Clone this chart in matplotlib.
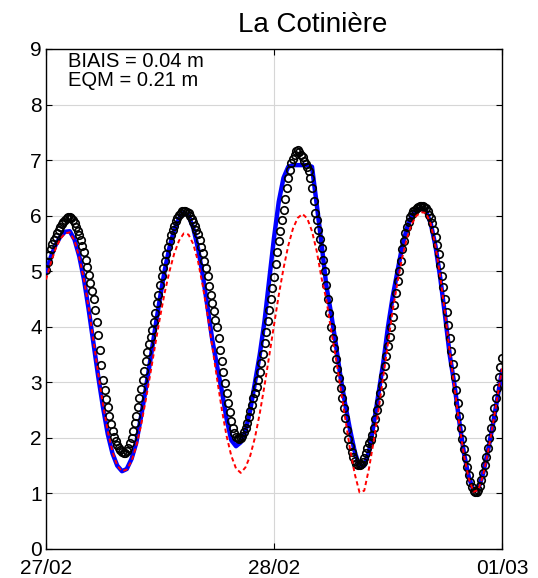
import numpy as np
import matplotlib
matplotlib.use('Agg')
import matplotlib.pyplot as plt

plt.rcParams['font.family'] = ['Liberation Sans', 'DejaVu Sans']

# heures depuis le 27/02 00h
tick_hours = [0, 24, 48]
tick_labels = ['27/02', '28/02', '01/03']

# observations (pas de 10 min, une ligne par heure)
obs = [5.02, 5.16, 5.29, 5.40, 5.49, 5.56,
       5.62, 5.69, 5.75, 5.80, 5.85, 5.89,
       5.93, 5.96, 5.98, 5.98, 5.96, 5.93,
       5.86, 5.80, 5.73, 5.66, 5.57, 5.46,
       5.34, 5.21, 5.07, 4.93, 4.79, 4.65,
       4.50, 4.30, 4.08, 3.85, 3.58, 3.32,
       3.05, 2.86, 2.70, 2.55, 2.40, 2.25,
       2.12, 2.02, 1.94, 1.87, 1.82, 1.78,
       1.74, 1.73, 1.73, 1.76, 1.81, 1.90,
       2.00, 2.12, 2.26, 2.40, 2.55, 2.71,
       2.88, 3.04, 3.21, 3.38, 3.54, 3.69,
       3.82, 3.94, 4.08, 4.25, 4.42, 4.58,
       4.75, 4.91, 5.05, 5.18, 5.31, 5.44,
       5.55, 5.65, 5.74, 5.82, 5.90, 5.96,
       6.01, 6.05, 6.08, 6.09, 6.09, 6.07,
       6.04, 5.99, 5.94, 5.88, 5.81, 5.74,
       5.67, 5.56, 5.44, 5.32, 5.19, 5.05,
       4.92, 4.74, 4.57, 4.42, 4.28, 4.13,
       4.00, 3.79, 3.58, 3.38, 3.18, 2.98,
       2.80, 2.63, 2.46, 2.30, 2.18, 2.08,
       2.02, 1.99, 1.98, 2.00, 2.04, 2.10,
       2.18, 2.27, 2.37, 2.48, 2.60, 2.71,
       2.80, 2.92, 3.05, 3.18, 3.34, 3.51,
       3.70, 3.90, 4.10, 4.30, 4.50, 4.70,
       4.90, 5.13, 5.35, 5.55, 5.73, 5.92,
       6.10, 6.30, 6.50, 6.68, 6.83, 6.94,
       7.02, 7.10, 7.16, 7.18, 7.15, 7.10,
       7.06, 6.99, 6.93, 6.88, 6.80, 6.68,
       6.50, 6.26, 6.05, 5.92, 5.75, 5.58,
       5.42, 5.20, 5.00, 4.75, 4.50, 4.25,
       4.00, 3.80, 3.61, 3.42, 3.24, 3.07,
       2.90, 2.71, 2.53, 2.35, 2.15, 1.98,
       1.85, 1.74, 1.66, 1.58, 1.53, 1.51,
       1.51, 1.53, 1.57, 1.63, 1.72, 1.82,
       1.90, 1.97, 2.06, 2.18, 2.34, 2.50,
       2.65, 2.80, 2.96, 3.12, 3.30, 3.48,
       3.65, 3.82, 4.00, 4.18, 4.40, 4.61,
       4.82, 5.00, 5.18, 5.40, 5.55, 5.68,
       5.80, 5.89, 5.97, 6.03, 6.08, 6.11,
       6.14, 6.16, 6.17, 6.17, 6.17, 6.15,
       6.13, 6.08, 6.02, 5.95, 5.86, 5.75,
       5.62, 5.47, 5.31, 5.12, 4.92, 4.71,
       4.50, 4.27, 4.03, 3.80, 3.57, 3.33,
       3.10, 2.87, 2.63, 2.40, 2.18, 1.98,
       1.80, 1.63, 1.47, 1.33, 1.21, 1.11,
       1.05, 1.02, 1.02, 1.06, 1.13, 1.24,
       1.36, 1.51, 1.66, 1.82, 1.99, 2.17,
       2.35, 2.53, 2.71, 2.90, 3.09, 3.27,
       3.44]

# modele 1 (pas de 30 min)
mod1 = [4.97, 5.25, 5.47, 5.62, 5.71, 5.72, 5.57, 5.27, 4.85, 4.30, 3.70, 3.10,
        2.55, 2.07, 1.72, 1.50, 1.40, 1.44, 1.62, 1.91, 2.38, 2.88, 3.42, 3.98,
        4.52, 5.02, 5.43, 5.75, 5.95, 6.05, 6.00, 5.78, 5.41, 4.93, 4.36, 3.77,
        3.30, 2.85, 2.35, 1.96, 1.85, 1.92, 2.12, 2.50, 3.00, 3.50, 4.10, 4.85,
        5.60, 6.25, 6.68, 6.88, 6.91, 6.91, 6.91, 6.91, 6.88, 6.20, 5.50, 4.75,
        4.25, 3.70, 3.10, 2.60, 2.15, 1.75, 1.48, 1.50, 1.75, 2.25, 2.80, 3.35,
        4.00, 4.55, 5.00, 5.45, 5.78, 6.00, 6.10, 6.12, 6.08, 5.86, 5.45, 4.88,
        4.21, 3.49, 2.95, 2.30, 1.72, 1.30, 1.05, 1.08, 1.35, 1.75, 2.20, 2.70,
        3.20]

# modele 2 (pas de 30 min)
mod2 = [4.85, 5.15, 5.40, 5.58, 5.68, 5.70, 5.55, 5.25, 4.85, 4.33, 3.75, 3.15,
        2.60, 2.12, 1.75, 1.50, 1.40, 1.43, 1.58, 1.85, 2.22, 2.68, 3.17, 3.68,
        4.17, 4.62, 5.00, 5.32, 5.55, 5.68, 5.66, 5.49, 5.18, 4.74, 4.22, 3.65,
        3.07, 2.52, 2.04, 1.68, 1.45, 1.37, 1.47, 1.68, 2.01, 2.44, 2.94, 3.48,
        4.03, 4.57, 5.05, 5.46, 5.77, 5.96, 6.03, 5.95, 5.72, 5.36, 4.88, 4.50,
        3.95, 3.45, 2.90, 2.35, 1.80, 1.35, 1.02, 1.05, 1.45, 1.95, 2.50, 3.10,
        3.70, 4.30, 4.80, 5.25, 5.60, 5.85, 6.00, 6.06, 6.05, 5.85, 5.45, 4.90,
        4.25, 3.55, 2.90, 2.25, 1.68, 1.27, 1.03, 1.06, 1.32, 1.72, 2.20, 2.72,
        3.25]

t_obs = np.arange(len(obs)) / 6.0
t_mod = np.arange(len(mod1)) * 0.5

fig = plt.figure(figsize=(5.38, 5.78), dpi=100)
ax = fig.add_axes([46/538, 29/578, 456/538, 500/578])

ax.plot(t_mod, mod1, color='blue', lw=3.2, zorder=3)
ax.plot(t_obs, obs, 'o', mfc='none', mec='black', ms=5.4, mew=1.2, zorder=4)
ax.plot(t_mod, mod2, color='red', lw=1.4, ls=(0, (2.2, 1.6)), zorder=5)

ax.set_xlim(0, 48)
ax.set_ylim(0, 9)
ax.set_xticks(tick_hours)
ax.set_xticklabels(tick_labels)
ax.set_yticks(range(10))
ax.tick_params(direction='in', length=4, labelsize=15, top=True, right=True, pad=3)
ax.tick_params(axis='x', pad=7)
ax.grid(True, color='#d6d6d6', lw=0.8)
ax.set_axisbelow(True)
for s in ax.spines.values():
    s.set_linewidth(1.0)

ax.text(0.048, 0.964, 'BIAIS = 0.04 m', transform=ax.transAxes, fontsize=14.5, va='baseline')
ax.text(0.048, 0.926, 'EQM = 0.21 m', transform=ax.transAxes, fontsize=14.5, va='baseline')
fig.text(0.582, 0.945, 'La Cotinière', ha='center', va='baseline', fontsize=20)

fig.savefig('out.png', dpi=100)
